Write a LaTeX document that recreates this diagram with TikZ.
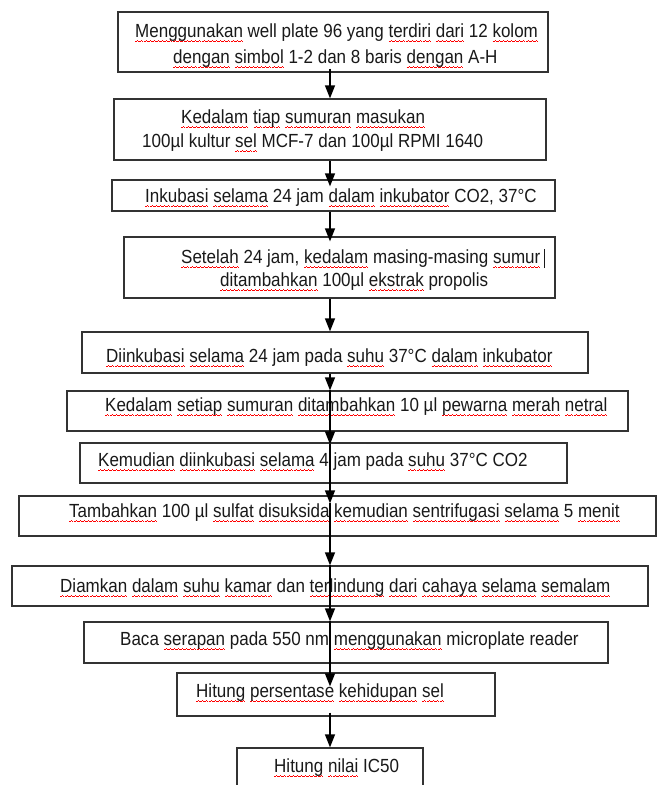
\documentclass[tikz,border=0pt]{standalone}
\usepackage{fontspec}
\setmainfont[FakeStretch=0.895]{Liberation Sans}
\usetikzlibrary{arrows.meta,calc}
\newsavebox\sqbox
\newcommand\sqwave{\hbox{\rule[0pt]{1pt}{0.8pt}\rule[0.7pt]{1pt}{0.8pt}\rule[1.4pt]{1pt}{0.8pt}\rule[0.7pt]{1pt}{0.8pt}}}
\newcommand\sq[1]{\sbox\sqbox{#1}\rlap{\textcolor{red}{\lower5pt\hbox to \wd\sqbox{\xleaders\sqwave\hfil}}}\usebox\sqbox}
\tikzset{
  box/.style={draw=black!80, line width=1.2pt, inner sep=0pt},
  txt/.style={anchor=base west, inner sep=0pt, font=\fontsize{19}{21}\selectfont, text=black!90},
  arr/.style={draw=black, line width=1.3pt, -{Triangle[width=10pt,length=13pt]}}
}
\begin{document}
\begin{tikzpicture}[x=1pt,y=-1pt]
\useasboundingbox (0,0) rectangle (660,785);
\clip (0,0) rectangle (660,785);
\coordinate (ax) at (330,0);
% boxes
\node[box, minimum width=430pt, minimum height=60pt] (b1) at (333,42) {};
\node[box, minimum width=432pt, minimum height=61pt] (b2) at (330,129.5) {};
\node[box, minimum width=443pt, minimum height=31pt] (b3) at (333.5,195.5) {};
\node[box, minimum width=431pt, minimum height=61pt] (b4) at (339.5,267.5) {};
\node[box, minimum width=506pt, minimum height=41pt] (b5) at (335,352.5) {};
\node[box, minimum width=561pt, minimum height=40pt] (b6) at (347.5,411) {};
\node[box, minimum width=487pt, minimum height=40pt] (b7) at (323.5,463) {};
\node[box, minimum width=637pt, minimum height=40pt] (b8) at (337.5,516) {};
\node[box, minimum width=636pt, minimum height=40pt] (b9) at (330,586) {};
\node[box, minimum width=524pt, minimum height=41pt] (b10) at (346,642.5) {};
\node[box, minimum width=318pt, minimum height=43pt] (b11) at (336,694.5) {};
\node[box, minimum width=186pt, minimum height=52pt] (b12) at (330,774) {};
% texts
\node[txt] (t1a) at (135,37) {\sq{Menggunakan} well plate 96 yang \sq{terdiri} \sq{dari} 12 \sq{kolom}};
\node[txt] (t1b) at (173,63) {\sq{dengan} \sq{simbol} 1-2 dan 8 baris \sq{dengan} A-H};
\node[txt] (t2a) at (181,123) {\sq{Kedalam} \sq{tiap} \sq{sumuran} \sq{masukan}};
\node[txt] (t2b) at (142,147) {100µl kultur \sq{sel} MCF-7 dan 100µl RPMI 1640};
\node[txt] (t3) at (145,202) {\sq{Inkubasi} \sq{selama} 24 jam \sq{dalam} \sq{inkubator} CO2, 37°C};
\node[txt] (t4a) at (181,263) {\sq{Setelah} 24 jam, \sq{kedalam} masing-masing \sq{sumur}\hspace{4pt}\rule[-5pt]{0.9pt}{19pt}};
\node[txt] (t4b) at (220,286) {\sq{ditambahkan} 100µl \sq{ekstrak} propolis};
\node[txt] (t5) at (106,362) {\sq{Diinkubasi} \sq{selama} 24 jam pada \sq{suhu} 37°C \sq{dalam} \sq{inkubator}};
\node[txt] (t6) at (105,411) {\sq{Kedalam} \sq{setiap} \sq{sumuran} \sq{ditambahkan} 10 µl \sq{pewarna} \sq{merah} \sq{netral}};
\node[txt] (t7) at (98,466) {\sq{Kemudian} \sq{diinkubasi} \sq{selama} 4 jam pada \sq{suhu} 37°C CO2};
\node[txt] (t8) at (69,517) {\sq{Tambahkan} 100 µl \sq{sulfat} \sq{disuksida} \sq{kemudian} \sq{sentrifugasi} \sq{selama} 5 \sq{menit}};
\node[txt] (t9) at (60,592) {\sq{Diamkan} \sq{dalam} \sq{suhu} \sq{kamar} dan \sq{terlindung} \sq{dari} \sq{cahaya} \sq{selama} \sq{semalam}};
\node[txt] (t10) at (120,645) {Baca \sq{serapan} pada 550 nm \sq{menggunakan} microplate reader};
\node[txt] (t11) at (196,697) {\sq{Hitung} \sq{persentase} \sq{kehidupan} \sq{sel}};
\node[txt] (t12) at (274,772) {\sq{Hitung} \sq{nilai} IC50};
% arrows
\draw[arr] ($(b1.south -| ax)+(0,-4)$) -- (b2.north -| ax);
\draw[arr] (b2.south -| ax) -- ($(b3.north -| ax)+(0,7)$);
\draw[arr] (b3.south -| ax) -- ($(b4.north -| ax)+(0,5)$);
\draw[arr] (b4.south -| ax) -- (b5.north -| ax);
\draw[arr] (b5.south -| ax) -- (b6.north -| ax);
\draw[arr] (b6.north -| ax) -- ($(b7.north -| ax)+(0,2)$);
\draw[arr] ($(b7.north -| ax)+(0,2)$) -- ($(b8.north -| ax)+(0,8)$);
\draw[arr] ($(b8.north -| ax)+(0,8)$) -- (b9.north -| ax);
\draw[arr] (b9.north -| ax) -- (b10.north -| ax);
\draw[arr] (b10.north -| ax) -- ($(b11.north -| ax)+(0,14)$);
\draw[arr] ($(b11.south -| ax)+(0,-4)$) -- (b12.north -| ax);
\end{tikzpicture}
\end{document}
